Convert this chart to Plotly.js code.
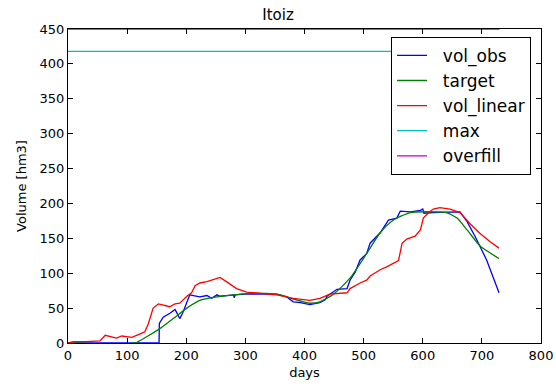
<!DOCTYPE html>
<html>
<head>
<meta charset="utf-8">
<script src="https://cdn.plot.ly/plotly-3.0.1.min.js"></script>
<style>html,body{margin:0;padding:0;background:#fff;}#chart{width:556px;height:392px;}</style>
</head>
<body>
<div id="chart"></div>
<script>
// vol_obs
const obsDays = [0, 154, 154.5, 161, 173, 181, 183, 189, 194, 201, 206, 212, 223, 235, 243, 252, 257, 268, 280, 281, 283, 297, 325, 353, 370, 381, 393, 409, 426, 435, 438, 455, 472, 477, 486, 494, 505, 511, 528, 542, 556, 562, 579, 596, 600, 602, 618, 663, 675, 689, 708, 729];
const obsVals = [0, 0, 28, 37, 43, 48, 45, 35, 43, 59, 69, 68, 66, 68, 64, 69, 67, 68, 69, 65, 69, 70, 70, 70, 66, 59, 58, 55, 58, 62, 67, 77, 78, 90, 102, 119, 128, 143, 158, 176, 179, 189, 188, 190, 192, 186, 187, 188, 174, 152, 119, 72];
// target
const tgtDays = [0, 113, 133, 156, 178, 201, 223, 252, 280, 313, 336, 359, 381, 409, 426, 449, 477, 505, 528, 550, 579, 618, 640, 658, 675, 697, 714, 729];
const tgtVals = [0, 0, 9, 21, 35, 50, 61, 66, 69, 71, 71, 69, 63, 57, 59, 70, 93, 128, 158, 176, 187, 188, 187, 179, 162, 139, 129, 121];
// vol_linear
const linDays = [0, 9, 30, 54, 63, 82, 91, 108, 122, 130, 136, 144, 153, 161, 172, 181, 189, 201, 209, 215, 223, 235, 252, 257, 268, 285, 302, 325, 353, 381, 409, 426, 443, 472, 477, 494, 505, 511, 528, 539, 559, 565, 573, 587, 596, 601, 610, 618, 629, 646, 663, 680, 697, 714, 729];
const linVals = [0, 2, 2, 3, 11, 7, 10, 8, 13, 16, 28, 50, 56, 54, 52, 56, 57, 67, 72, 82, 86, 88, 93, 94, 88, 78, 73, 71, 69, 64, 61, 64, 70, 72, 78, 86, 90, 96, 105, 109, 118, 143, 149, 153, 162, 179, 187, 192, 194, 192, 187, 171, 157, 145, 136];
// max and overfill
const maxDays = [0, 730];
const maxVals = [418, 418];
const overDays = [0, 730];
const overVals = [450, 450];

const xTicks = [0, 100, 200, 300, 400, 500, 600, 700, 800];
const yTicks = [0, 50, 100, 150, 200, 250, 300, 350, 400, 450];

const pad = '\u00a0\u00a0';
const traces = [
  {x: obsDays, y: obsVals, name: pad + 'vol_obs', mode: 'lines', line: {color: '#0000ff', width: 1.3}},
  {x: tgtDays, y: tgtVals, name: pad + 'target', mode: 'lines', line: {color: '#008000', width: 1.3, shape: 'spline', smoothing: 0.6}},
  {x: linDays, y: linVals, name: pad + 'vol_linear', mode: 'lines', line: {color: '#ff0000', width: 1.3}},
  {x: maxDays, y: maxVals, name: pad + 'max', mode: 'lines', line: {color: '#00bfbf', width: 1.3}},
  {x: overDays, y: overVals, name: pad + 'overfill', mode: 'lines', line: {color: '#bf00bf', width: 1.3}, cliponaxis: false}
];

const axisCommon = {
  showline: true, linecolor: '#000', linewidth: 1, mirror: 'allticks',
  ticks: 'inside', ticklen: 5, tickcolor: '#000', tickwidth: 1,
  showgrid: false, zeroline: false,
  tickfont: {family: 'DejaVu Sans', size: 13, color: '#000'}
};

const layout = {
  width: 556, height: 392,
  margin: {l: 68, r: 15, t: 29, b: 49},
  paper_bgcolor: '#fff', plot_bgcolor: '#fff',
  font: {family: 'DejaVu Sans', color: '#000'},
  title: {text: 'Itoiz', font: {family: 'DejaVu Sans', size: 15, color: '#000'}, x: 0.5, xanchor: 'center', xref: 'container', y: 1 - 15/392, yref: 'container', yanchor: 'middle'},
  xaxis: Object.assign({}, axisCommon, {range: [0, 800], tickvals: xTicks, ticktext: xTicks.map(String),
    title: {text: 'days', font: {family: 'DejaVu Sans', size: 13, color: '#000'}, standoff: 6}}),
  yaxis: Object.assign({}, axisCommon, {range: [0, 450], tickvals: yTicks, ticktext: yTicks.map(String),
    title: {text: 'Volume [hm3]', font: {family: 'DejaVu Sans', size: 13, color: '#000'}, standoff: 10}}),
  showlegend: true,
  legend: {x: 0.683, y: 0.975, xanchor: 'left', yanchor: 'top', bgcolor: '#fff', bordercolor: '#000', borderwidth: 1,
    font: {family: 'DejaVu Sans', size: 17, color: '#000'}, tracegroupgap: 0}
};

Plotly.newPlot('chart', traces, layout, {displayModeBar: false, staticPlot: true});
</script>
</body>
</html>
